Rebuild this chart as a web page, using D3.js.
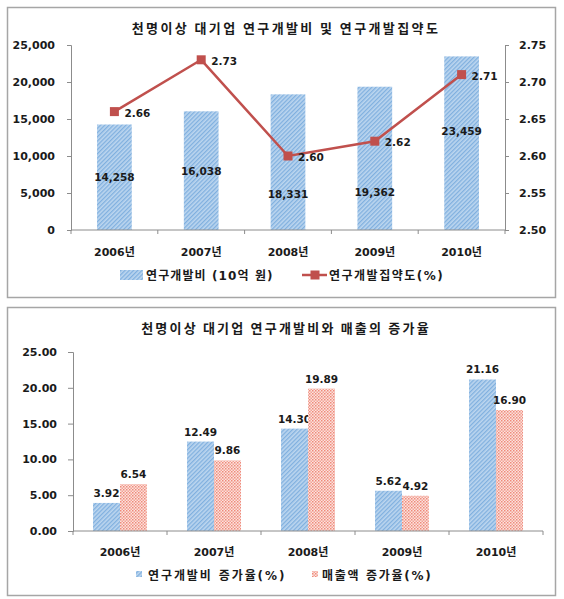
<!DOCTYPE html>
<html><head><meta charset="utf-8">
<script src="https://cdn.jsdelivr.net/npm/d3@7"></script>
<style>
html,body{margin:0;padding:0;background:#fff;}
svg text{font-family:"DejaVu Sans","Noto Sans CJK KR",sans-serif;font-weight:bold;fill:#1a1a1a;}
</style></head>
<body>
<svg id="c" width="564" height="599"></svg>
<script>
// ---------- data ----------
const years = ["2006년","2007년","2008년","2009년","2010년"];
const rdSpend = [14258,16038,18331,19362,23459];           // 연구개발비 (10억 원)
const rdIntensity = [2.66,2.73,2.60,2.62,2.71];            // 연구개발집약도(%)
const rdGrowth = [3.92,12.49,14.30,5.62,21.16];            // 연구개발비 증가율(%)
const salesGrowth = [6.54,9.86,19.89,4.92,16.90];          // 매출액 증가율(%)
const leftTicks1 = [0,5000,10000,15000,20000,25000];
const rightTicks1 = [2.50,2.55,2.60,2.65,2.70,2.75];
const leftTicks2 = [0,5,10,15,20,25];
const title1 = "천명이상 대기업 연구개발비 및 연구개발집약도";
const title2 = "천명이상 대기업 연구개발비와 매출의 증가율";
const legend1 = ["연구개발비 (10억 원)","연구개발집약도(%)"];
const legend2 = ["연구개발비 증가율(%)","매출액 증가율(%)"];

const svg = d3.select("#c");
const defs = svg.append("defs");
// blue hatch
const pb = defs.append("pattern").attr("id","blueHatch").attr("patternUnits","userSpaceOnUse")
  .attr("width",3).attr("height",3).attr("patternTransform","rotate(45)");
pb.append("rect").attr("width",3).attr("height",3).attr("fill","#bcd6ef");
pb.append("rect").attr("width",1.3).attr("height",3).attr("fill","#80b0df");
// red dots
const pr = defs.append("pattern").attr("id","redDots").attr("patternUnits","userSpaceOnUse")
  .attr("width",3).attr("height",3);
pr.append("rect").attr("width",3).attr("height",3).attr("fill","#fbe3df");
pr.append("rect").attr("width",1.5).attr("height",1.5).attr("fill","#ef8a7a");
pr.append("rect").attr("x",1.5).attr("y",1.5).attr("width",1.5).attr("height",1.5).attr("fill","#f3a193");

const axisColor = "#8c8c8c";
function styleAxis(g){
  g.selectAll("path,line").attr("stroke",axisColor).attr("stroke-width",1);
  g.selectAll("text").attr("font-size",11).attr("fill","#1a1a1a")
   .style("font-family",'"DejaVu Sans","Noto Sans CJK KR",sans-serif').style("font-weight","bold");
}

// ---------- chart 1 ----------
svg.append("rect").attr("x",7.5).attr("y",7.5).attr("width",548).attr("height",290)
  .attr("fill","#fff").attr("stroke","#a6a6a6").attr("stroke-width",1.5);
svg.append("text").attr("x",286).attr("y",27).attr("text-anchor","middle")
  .attr("dominant-baseline","central").attr("font-size",13).attr("letter-spacing",2.4)
  .style("font-family",'"Noto Sans CJK KR",sans-serif').text(title1);

const x1 = d3.scaleBand().domain(years).range([71,505]).padding(0);
const yL = d3.scaleLinear().domain([0,25000]).range([230,45]);
const yR = d3.scaleLinear().domain([2.50,2.75]).range([230,45]);

const gL = svg.append("g").attr("transform","translate(71,0)")
  .call(d3.axisLeft(yL).tickValues(leftTicks1).tickSize(4).tickPadding(12).tickFormat(d3.format(",")));
styleAxis(gL);
const gR = svg.append("g").attr("transform","translate(505,0)")
  .call(d3.axisRight(yR).tickValues(rightTicks1).tickSize(4).tickPadding(10).tickFormat(d3.format(".2f")));
styleAxis(gR);

const bw1 = x1.bandwidth()*0.4;
svg.append("g").selectAll("rect").data(rdSpend).join("rect")
  .attr("x",(d,i)=>x1(years[i])+(x1.bandwidth()-bw1)/2)
  .attr("y",d=>yL(d)).attr("width",bw1).attr("height",d=>yL(0)-yL(d))
  .attr("fill","url(#blueHatch)");

// x axis 1
const gX1 = svg.append("g").attr("transform","translate(0,230)");
gX1.append("line").attr("x1",71).attr("x2",505).attr("stroke",axisColor);
gX1.selectAll("line.t").data(d3.range(years.length+1)).join("line").attr("class","t")
  .attr("x1",i=>71+i*x1.step()).attr("x2",i=>71+i*x1.step()).attr("y1",0).attr("y2",4).attr("stroke",axisColor);
gX1.selectAll("text").data(years).join("text")
  .attr("x",d=>x1(d)+x1.bandwidth()/2).attr("y",22).attr("text-anchor","middle")
  .attr("dominant-baseline","central").attr("font-size",11).text(d=>d);

// bar labels (label anchor as fraction of bar height)
const labelFrac1 = [0.5,0.5,0.265,0.265,0.57];
svg.append("g").selectAll("text").data(rdSpend).join("text")
  .attr("x",(d,i)=>x1(years[i])+x1.bandwidth()/2)
  .attr("y",(d,i)=>yL(d*labelFrac1[i])).attr("text-anchor","middle")
  .attr("dominant-baseline","central").attr("font-size",10.5).attr("fill","#1a1a2a")
  .text(d=>d3.format(",")(d));

// line
const lineCol = "#c0504d";
const line = d3.line().x((d,i)=>x1(years[i])+x1.bandwidth()/2).y(d=>yR(d));
svg.append("path").datum(rdIntensity).attr("d",line).attr("fill","none")
  .attr("stroke",lineCol).attr("stroke-width",2.5);
svg.append("g").selectAll("rect").data(rdIntensity).join("rect")
  .attr("x",(d,i)=>x1(years[i])+x1.bandwidth()/2-4.5).attr("y",d=>yR(d)-4.5)
  .attr("width",9).attr("height",9).attr("fill",lineCol);
svg.append("g").selectAll("text").data(rdIntensity).join("text")
  .attr("x",(d,i)=>x1(years[i])+x1.bandwidth()/2+10).attr("y",d=>yR(d)+1)
  .attr("dominant-baseline","central").attr("font-size",10.5)
  .text(d=>d3.format(".2f")(d));

// legend 1
const lg1 = svg.append("g");
lg1.append("rect").attr("x",120).attr("y",270).attr("width",23).attr("height",10).attr("fill","url(#blueHatch)");
lg1.append("text").attr("x",146).attr("y",276).attr("dominant-baseline","central").attr("font-size",12)
  .attr("letter-spacing",1.1).text(legend1[0]);
lg1.append("line").attr("x1",302).attr("x2",327).attr("y1",275).attr("y2",275).attr("stroke",lineCol).attr("stroke-width",2.5);
lg1.append("rect").attr("x",310.5).attr("y",270.5).attr("width",9).attr("height",9).attr("fill",lineCol);
lg1.append("text").attr("x",329).attr("y",276).attr("dominant-baseline","central").attr("font-size",12)
  .attr("letter-spacing",1.5).text(legend1[1]);

// ---------- chart 2 ----------
svg.append("rect").attr("x",7.5).attr("y",307.5).attr("width",548).attr("height",288)
  .attr("fill","#fff").attr("stroke","#a6a6a6").attr("stroke-width",1.5);
svg.append("text").attr("x",286).attr("y",327).attr("text-anchor","middle")
  .attr("dominant-baseline","central").attr("font-size",13).attr("letter-spacing",2.2)
  .style("font-family",'"Noto Sans CJK KR",sans-serif').text(title2);

const x2 = d3.scaleBand().domain(years).range([73,543]).padding(0);
const y2 = d3.scaleLinear().domain([0,25]).range([531,352]);
const gL2 = svg.append("g").attr("transform","translate(73,0)")
  .call(d3.axisLeft(y2).tickValues(leftTicks2).tickSize(5).tickPadding(11).tickFormat(d3.format(".2f")));
styleAxis(gL2);

const series = [rdGrowth, salesGrowth];
const fills = ["url(#blueHatch)","url(#redDots)"];
const xs = d3.scaleBand().domain([0,1]).range([x2.bandwidth()*0.213, x2.bandwidth()*0.787]).padding(0);
series.forEach((s,k)=>{
  svg.append("g").selectAll("rect").data(s).join("rect")
    .attr("x",(d,i)=>x2(years[i])+xs(k)).attr("y",d=>y2(d))
    .attr("width",xs.bandwidth()).attr("height",d=>y2(0)-y2(d)).attr("fill",fills[k]);
  svg.append("g").selectAll("text").data(s).join("text")
    .attr("x",(d,i)=>x2(years[i])+xs(k)+xs.bandwidth()/2).attr("y",d=>y2(d)-10)
    .attr("text-anchor","middle").attr("dominant-baseline","central").attr("font-size",10.5)
    .text(d=>d3.format(".2f")(d));
});

const gX2 = svg.append("g").attr("transform","translate(0,531)");
gX2.append("line").attr("x1",73).attr("x2",543).attr("stroke",axisColor);
gX2.selectAll("line.t").data(d3.range(years.length+1)).join("line").attr("class","t")
  .attr("x1",i=>73+i*x2.step()).attr("x2",i=>73+i*x2.step()).attr("y1",0).attr("y2",4).attr("stroke",axisColor);
gX2.selectAll("text").data(years).join("text")
  .attr("x",d=>x2(d)+x2.bandwidth()/2).attr("y",21).attr("text-anchor","middle")
  .attr("dominant-baseline","central").attr("font-size",11).text(d=>d);

const lg2 = svg.append("g");
lg2.append("rect").attr("x",136).attr("y",571).attr("width",6).attr("height",6).attr("fill","url(#blueHatch)");
lg2.append("text").attr("x",148).attr("y",576).attr("dominant-baseline","central").attr("font-size",12)
  .attr("letter-spacing",1.9).text(legend2[0]);
lg2.append("rect").attr("x",312).attr("y",571).attr("width",6).attr("height",6).attr("fill","url(#redDots)");
lg2.append("text").attr("x",322).attr("y",576).attr("dominant-baseline","central").attr("font-size",12)
  .attr("letter-spacing",1.7).text(legend2[1]);
</script>
</body></html>
